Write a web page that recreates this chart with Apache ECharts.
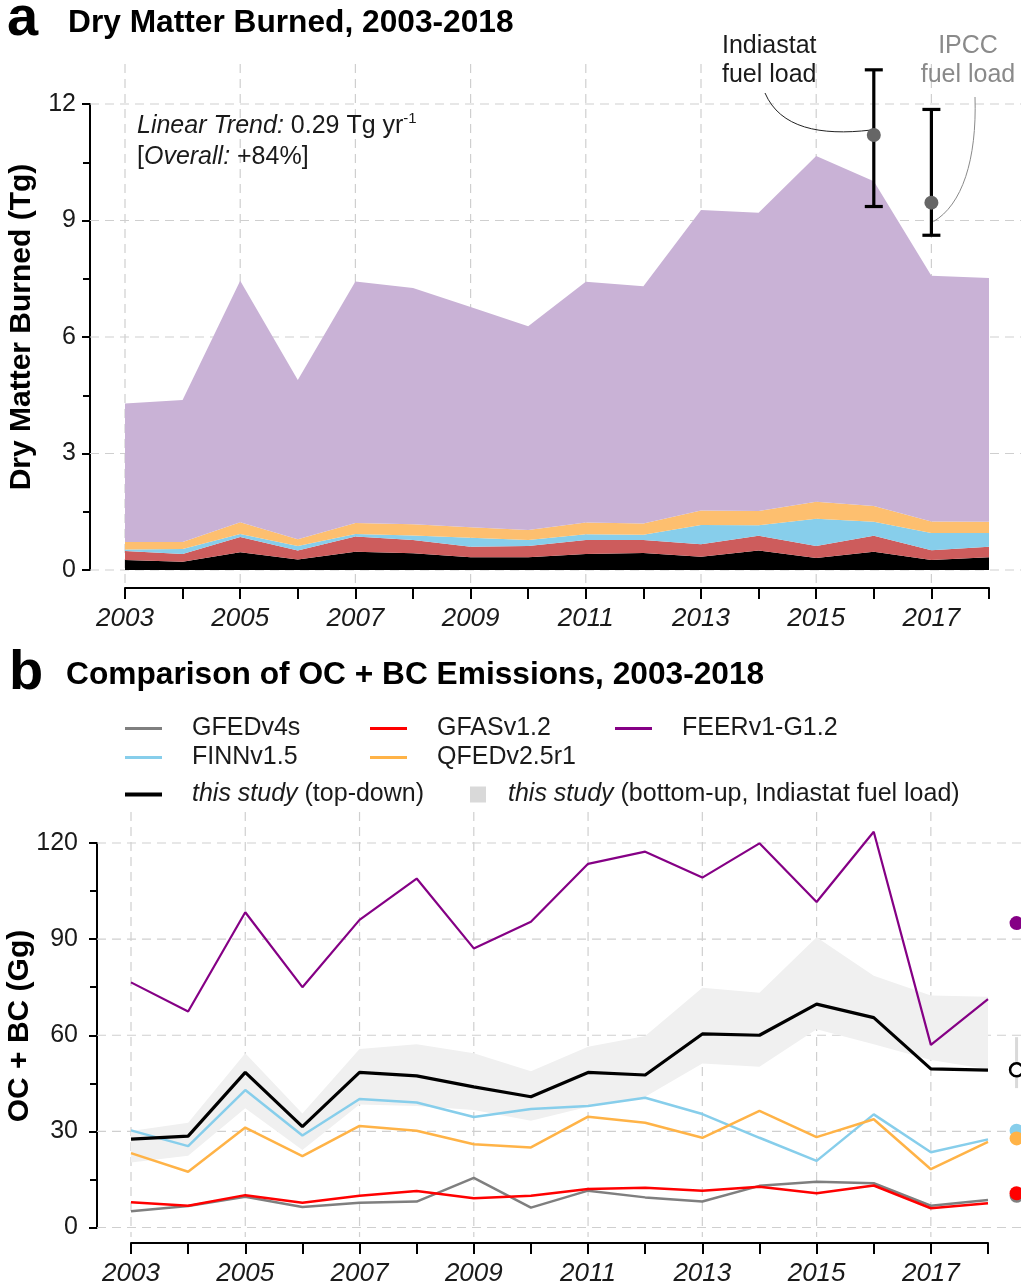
<!DOCTYPE html>
<html>
<head>
<meta charset="utf-8">
<script src="https://cdn.jsdelivr.net/npm/echarts@6/dist/echarts.min.js"></script>
<style>
  html, body { margin: 0; padding: 0; background: #ffffff; }
  #chart { width: 1021px; height: 1287px; }
</style>
</head>
<body>
<div id="chart"></div>
<script>
// ---------------- data ----------------
const years = ['2003', '2004', '2005', '2006', '2007', '2008', '2009', '2010', '2011', '2012', '2013', '2014', '2015', '2016', '2017', '2018'];
const yearLabels = ['2003', '2005', '2007', '2009', '2011', '2013', '2015', '2017'];
const dmTicks = [0, 3, 6, 9, 12];
const emTicks = [0, 30, 60, 90, 120];

// panel a: dry matter burned (Tg), stacked from the bottom layer up
const dmBlack  = [0.26, 0.21, 0.46, 0.27, 0.47, 0.43, 0.33, 0.33, 0.41, 0.44, 0.34, 0.50, 0.31, 0.47, 0.26, 0.33];
const dmRed    = [0.23, 0.20, 0.39, 0.23, 0.39, 0.34, 0.27, 0.29, 0.36, 0.33, 0.32, 0.38, 0.31, 0.41, 0.25, 0.27];
const dmBlue   = [0.04, 0.13, 0.08, 0.12, 0.07, 0.12, 0.23, 0.15, 0.15, 0.14, 0.50, 0.27, 0.70, 0.36, 0.44, 0.35];
const dmOrange = [0.19, 0.18, 0.30, 0.17, 0.28, 0.29, 0.27, 0.26, 0.30, 0.29, 0.37, 0.37, 0.44, 0.41, 0.30, 0.29];
const dmPurple = [3.57, 3.66, 6.22, 4.10, 6.22, 6.08, 5.67, 5.25, 6.20, 6.11, 7.74, 7.68, 8.90, 8.36, 6.33, 6.28];

// fuel-load estimates with their ranges (Tg)
const fuelLoadNames   = ['Indiastat', 'IPCC'];
const fuelLoadYears   = [2016, 2017];
const fuelLoadCentral = [11.20, 9.46];
const fuelLoadLow     = [9.36, 8.62];
const fuelLoadHigh    = [12.88, 11.86];

// panel b: OC + BC emissions (Gg)
const gfed    = [5.1, 6.7, 9.6, 6.4, 7.7, 8.1, 15.5, 6.2, 11.5, 9.4, 8.1, 13.0, 14.3, 13.8, 6.8, 8.6];
const gfas    = [7.9, 6.8, 10.1, 7.7, 9.9, 11.4, 9.1, 9.9, 12.0, 12.4, 11.5, 12.7, 10.7, 13.1, 6.0, 7.6];
const feer    = [76.5, 67.4, 98.4, 75.0, 96.0, 108.9, 87.1, 95.4, 113.5, 117.3, 109.2, 119.9, 101.6, 123.5, 57.0, 71.3];
const finn    = [30.3, 25.4, 42.9, 28.7, 40.1, 39.0, 34.5, 37.0, 37.9, 40.5, 35.4, 28.0, 20.8, 35.3, 23.5, 27.5];
const qfed    = [23.2, 17.4, 31.2, 22.3, 31.7, 30.2, 26.0, 25.0, 34.6, 32.7, 28.0, 36.4, 28.2, 33.8, 18.2, 26.7];
const topDown = [27.6, 28.5, 48.4, 31.5, 48.4, 47.3, 43.9, 40.8, 48.4, 47.6, 60.4, 60.0, 69.7, 65.5, 49.5, 49.1];
const bottomUpLow  = [20.3, 22.4, 37.2, 24.2, 38.4, 37.9, 36.7, 33.3, 37.7, 40.8, 51.2, 50.2, 61.9, 57.2, 52.3, 49.4];
const bottomUpHigh = [30.1, 32.7, 54.4, 35.6, 55.7, 57.2, 54.4, 48.8, 56.4, 59.8, 74.8, 73.3, 90.6, 78.6, 72.4, 72.0];

// period means shown in the column to the right of panel b
const meanFeer = 95.0, meanTopDown = 49.2, meanFinn = 30.2, meanQfed = 27.8, meanGfas = 10.7, meanGfed = 9.9;
const meanBottomUpRange = [43.5, 59.4];

// ---------------- layout ----------------
const FONT = "'Liberation Sans', Arial, Helvetica, sans-serif";
const INK = '#1a1a1a';

// plotting boxes (pixels): data box = axis extents, frame = area covered by dashed guides
const A  = { left: 125, right: 989, top: 104, bottom: 570 };
const AF = { left: 90, right: 1021, top: 64, bottom: 584 };
const B  = { left: 131, right: 988, top: 843, bottom: 1227.5 };
const BF = { left: 97, right: 1021, top: 812, bottom: 1237 };
const summaryColumnX = 2018.5;

const lin = (p0, p1, v0, v1) => (p) => v0 + (p - p0) * (v1 - v0) / (p1 - p0);
const firstYear = +years[0], lastYear = +years[years.length - 1];
const axAx = lin(A.left, A.right, firstYear, lastYear);
const axAy = lin(A.bottom, A.top, dmTicks[0], dmTicks[dmTicks.length - 1]);
const axBx = lin(B.left, B.right, firstYear, lastYear);
const axBy = lin(B.bottom, B.top, emTicks[0], emTicks[emTicks.length - 1]);
const gridYears = yearLabels.map(Number);

const box = (b) => ({ left: b.left, top: b.top, width: b.right - b.left, height: b.bottom - b.top });

function yearAxis(gridIndex, offset) {
  return {
    gridIndex, type: 'category', data: years, boundaryGap: false, offset,
    axisLine: { show: true, onZero: false, lineStyle: { color: '#000', width: 2 } },
    axisTick: { show: true, inside: false, interval: 0, length: 11, lineStyle: { color: '#000', width: 2 } },
    axisLabel: {
      interval: 0, margin: 18, fontFamily: FONT, fontSize: 26, fontStyle: 'italic', color: INK,
      formatter: (v) => (yearLabels.indexOf(String(v)) >= 0 ? String(v) : '')
    },
    splitLine: { show: false }, splitArea: { show: false }
  };
}
function valueAxis(gridIndex, ticks, offset, margin) {
  return {
    gridIndex, type: 'value', min: ticks[0], max: ticks[ticks.length - 1],
    interval: ticks[1] - ticks[0], offset,
    axisLine: { show: true, onZero: false, lineStyle: { color: '#000', width: 2 } },
    axisTick: { show: true, inside: false, length: 8, lineStyle: { color: '#000', width: 2 } },
    minorTick: { show: true, splitNumber: 2, length: 7, lineStyle: { color: '#000', width: 2 } },
    axisLabel: { margin, fontFamily: FONT, fontSize: 25, color: INK },
    splitLine: { show: false }, minorSplitLine: { show: false }, splitArea: { show: false }
  };
}
function frameAxis(gridIndex, min, max) {
  return {
    gridIndex, type: 'value', show: false, min, max,
    axisLine: { show: false, onZero: false }, splitLine: { show: false }
  };
}
// dashed guide lines across the whole frame, at the labelled years and the value ticks
function guides(axisIndex, xs, ys) {
  return {
    type: 'custom', xAxisIndex: axisIndex, yAxisIndex: axisIndex, data: [0], silent: true, z: 1, clip: false,
    renderItem: (params, api) => {
      const cs = params.coordSys;
      const style = { stroke: '#cfcfcf', lineWidth: 1.2, lineDash: [9, 6], fill: null };
      const kids = [];
      xs.forEach((v) => {
        const x = api.coord([v, ys[0]])[0];
        kids.push({ type: 'line', shape: { x1: x, y1: cs.y, x2: x, y2: cs.y + cs.height }, style });
      });
      ys.forEach((v) => {
        const y = api.coord([xs[0], v])[1];
        kids.push({ type: 'line', shape: { x1: cs.x, y1: y, x2: cs.x + cs.width, y2: y }, style });
      });
      return { type: 'group', children: kids };
    }
  };
}
function dmLayer(name, values, color) {
  return {
    type: 'line', name, xAxisIndex: 1, yAxisIndex: 1, stack: 'dm', data: values,
    symbol: 'none', z: 2, silent: true,
    lineStyle: { width: 0 }, itemStyle: { color }, areaStyle: { color, opacity: 1 }
  };
}
function emLine(name, values, color, width, z) {
  return {
    type: 'line', name, xAxisIndex: 3, yAxisIndex: 3, data: values, symbol: 'none', z, clip: false,
    silent: true, lineStyle: { color, width }, itemStyle: { color }, emphasis: { disabled: true }
  };
}
function meanDot(value, color, z) {
  return {
    type: 'scatter', xAxisIndex: 2, yAxisIndex: 2, data: [[summaryColumnX, value]], clip: false,
    symbol: 'circle', symbolSize: 14, z, silent: true, itemStyle: { color, opacity: 1 }
  };
}

const NAME_GFED = 'GFEDv4s', NAME_GFAS = 'GFASv1.2', NAME_FEER = 'FEERv1-G1.2',
      NAME_FINN = 'FINNv1.5', NAME_QFED = 'QFEDv2.5r1',
      NAME_TD = 'this study (top-down)', NAME_BU = 'this study (bottom-up, Indiastat fuel load)';

const legendText = (gap) => ({
  fontFamily: FONT, fontSize: 25, color: INK, lineHeight: 25,
  rich: {
    g: { width: gap, fontSize: 25, fontFamily: FONT },
    i: { fontStyle: 'italic', fontSize: 25, fontFamily: FONT, color: INK }
  }
});
const legendFormatter = (name) =>
  name.indexOf('this study') === 0 ? '{g| }{i|this study}' + name.slice('this study'.length) : '{g| }' + name;
function lineLegend(name, left, top, thick) {
  return {
    data: [name], left, top, orient: 'horizontal', padding: 0, icon: 'rect',
    itemWidth: 37, itemHeight: thick, selectedMode: false,
    formatter: legendFormatter, textStyle: legendText(25)
  };
}

const option = {
  animation: false,
  backgroundColor: '#ffffff',
  grid: [box(AF), box(A), box(BF), box(B)],
  xAxis: [
    frameAxis(0, axAx(AF.left), axAx(AF.right)),
    yearAxis(1, 18),
    frameAxis(2, axBx(BF.left), axBx(BF.right)),
    yearAxis(3, 15.5)
  ],
  yAxis: [
    frameAxis(0, axAy(AF.bottom), axAy(AF.top)),
    valueAxis(1, dmTicks, A.left - AF.left, 14),
    frameAxis(2, axBy(BF.bottom), axBy(BF.top)),
    valueAxis(3, emTicks, B.left - BF.left, 19)
  ],
  legend: [
    lineLegend(NAME_GFED, 125, 716, 3),
    lineLegend(NAME_FINN, 125, 745, 3),
    lineLegend(NAME_GFAS, 370, 716, 3),
    lineLegend(NAME_QFED, 370, 745, 3),
    lineLegend(NAME_FEER, 615, 716, 3),
    lineLegend(NAME_TD, 125, 782, 4),
    {
      data: [{ name: NAME_BU, itemStyle: { color: '#d9d9d9' } }], left: 470, top: 782, padding: 0,
      icon: 'rect', itemWidth: 16, itemHeight: 16, selectedMode: false,
      formatter: legendFormatter, textStyle: legendText(17)
    }
  ],
  series: [
    // panel a
    guides(0, gridYears, dmTicks),
    dmLayer('layer1', dmBlack, '#000000'),
    dmLayer('layer2', dmRed, '#cd5c5c'),
    dmLayer('layer3', dmBlue, '#87ceeb'),
    dmLayer('layer4', dmOrange, '#fdbf6f'),
    dmLayer('layer5', dmPurple, '#c9b2d6'),
    {
      type: 'custom', name: 'fuel load range', xAxisIndex: 0, yAxisIndex: 0, z: 4, silent: true, clip: false,
      data: fuelLoadYears.map((y, i) => [y, fuelLoadLow[i], fuelLoadHigh[i]]),
      renderItem: (params, api) => {
        const x = api.value(0);
        const lo = api.coord([x, api.value(1)]);
        const hi = api.coord([x, api.value(2)]);
        const cap = 9;
        const style = { stroke: '#000', lineWidth: 3.2 };
        return {
          type: 'group', children: [
            { type: 'line', shape: { x1: lo[0], y1: lo[1], x2: hi[0], y2: hi[1] }, style },
            { type: 'line', shape: { x1: lo[0] - cap, y1: lo[1], x2: lo[0] + cap, y2: lo[1] }, style },
            { type: 'line', shape: { x1: hi[0] - cap, y1: hi[1], x2: hi[0] + cap, y2: hi[1] }, style }
          ]
        };
      }
    },
    {
      type: 'scatter', name: 'fuel load', xAxisIndex: 0, yAxisIndex: 0, z: 5, silent: true,
      data: fuelLoadYears.map((y, i) => [y, fuelLoadCentral[i]]),
      symbol: 'circle', symbolSize: 14, itemStyle: { color: '#666666', opacity: 1 }
    },

    // panel b
    guides(2, gridYears, emTicks),
    {
      type: 'line', name: 'bottom-up low', xAxisIndex: 3, yAxisIndex: 3, stack: 'bu', z: 2, silent: true,
      data: bottomUpLow, symbol: 'none', lineStyle: { width: 0, opacity: 0 }, itemStyle: { color: '#f0f0f0' }
    },
    {
      type: 'line', name: NAME_BU, xAxisIndex: 3, yAxisIndex: 3, stack: 'bu', z: 2, silent: true,
      data: bottomUpHigh.map((h, i) => +(h - bottomUpLow[i]).toFixed(2)),
      symbol: 'none', lineStyle: { width: 0, opacity: 0 },
      itemStyle: { color: '#f0f0f0' }, areaStyle: { color: '#f0f0f0', opacity: 1 }
    },
    emLine(NAME_GFED, gfed, '#7f7f7f', 2.5, 3),
    emLine(NAME_GFAS, gfas, '#ff0000', 2.5, 3),
    emLine(NAME_FEER, feer, '#850085', 2.2, 3),
    emLine(NAME_FINN, finn, '#87ceeb', 2.5, 3),
    emLine(NAME_QFED, qfed, '#ffb347', 2.5, 3),
    emLine(NAME_TD, topDown, '#000000', 3.2, 4),

    // period means
    {
      type: 'line', name: 'bottom-up mean range', xAxisIndex: 2, yAxisIndex: 2, z: 4, silent: true,
      data: meanBottomUpRange.map((v) => [summaryColumnX, v]), symbol: 'none', clip: false,
      lineStyle: { color: '#d9d9d9', width: 3 }
    },
    meanDot(meanFeer, '#850085', 5),
    meanDot(meanFinn, '#87ceeb', 5),
    meanDot(meanQfed, '#ffb347', 6),
    meanDot(meanGfed, '#7f7f7f', 5),
    meanDot(meanGfas, '#ff0000', 6),
    {
      type: 'scatter', xAxisIndex: 2, yAxisIndex: 2, data: [[summaryColumnX, meanTopDown]], clip: false,
      symbol: 'circle', symbolSize: 13, z: 6, silent: true,
      itemStyle: { color: '#ffffff', borderColor: '#000000', borderWidth: 2.5, opacity: 1 }
    }
  ]
};

const chart = echarts.init(document.getElementById('chart'), null, { renderer: 'canvas', width: 1021, height: 1287 });
chart.setOption(option);

// ---------------- text and leader lines ----------------
const txt = (text, x, y, o, rotation) => ({
  type: 'text', x, y, silent: true, z: 10, rotation: rotation || 0,
  style: Object.assign({ text, fill: INK, fontFamily: FONT, fontSize: 25, align: 'left', verticalAlign: 'middle' }, o || {})
});
const pIndia = chart.convertToPixel({ gridIndex: 0 }, [fuelLoadYears[0], fuelLoadCentral[0]]);
const pIpcc = chart.convertToPixel({ gridIndex: 0 }, [fuelLoadYears[1], fuelLoadCentral[1]]);

const graphics = [
  txt('a', 7, 20, { fontSize: 56, fontWeight: 'bold', fill: '#000' }),
  txt('Dry Matter Burned, 2003-2018', 68, 23, { fontSize: 31.7, fontWeight: 'bold', fill: '#000' }),
  txt('b', 9, 674, { fontSize: 56, fontWeight: 'bold', fill: '#000' }),
  txt('Comparison of OC + BC Emissions, 2003-2018', 66, 675, { fontSize: 31.7, fontWeight: 'bold', fill: '#000' }),
  txt('Dry Matter Burned (Tg)', 22, 327, { fontSize: 30, fontWeight: 'bold', fill: '#000', align: 'center' }, Math.PI / 2),
  txt('OC + BC (Gg)', 20, 1026, { fontSize: 30, fontWeight: 'bold', fill: '#000', align: 'center' }, Math.PI / 2),
  {
    type: 'text', x: 137, y: 126, silent: true, z: 10,
    style: {
      text: '{i|Linear Trend:}{n| 0.29 Tg yr}{s|-1}',
      verticalAlign: 'middle', align: 'left',
      rich: {
        i: { fontFamily: FONT, fontSize: 25, fontStyle: 'italic', fill: INK, lineHeight: 30 },
        n: { fontFamily: FONT, fontSize: 25, fill: INK, lineHeight: 30 },
        s: { fontFamily: FONT, fontSize: 15, fill: INK, lineHeight: 30, verticalAlign: 'top' }
      }
    }
  },
  {
    type: 'text', x: 137, y: 157, silent: true, z: 10,
    style: {
      text: '{n|[}{i|Overall:}{n| +84%]}',
      verticalAlign: 'middle', align: 'left',
      rich: {
        i: { fontFamily: FONT, fontSize: 25, fontStyle: 'italic', fill: INK },
        n: { fontFamily: FONT, fontSize: 25, fill: INK }
      }
    }
  },
  txt(fuelLoadNames[0] + '\nfuel load', 722, 61, { lineHeight: 29 }),
  txt(fuelLoadNames[1] + '\nfuel load', 968, 61, { lineHeight: 29, align: 'center', fill: '#8a8a8a' }),
  {
    type: 'bezierCurve', silent: true, z: 3,
    shape: { x1: 765, y1: 93, cpx1: 780, cpy1: 128, cpx2: 820, cpy2: 136, x2: pIndia[0] - 3, y2: pIndia[1] - 5 },
    style: { stroke: '#222', lineWidth: 1, fill: null }
  },
  {
    type: 'bezierCurve', silent: true, z: 3,
    shape: { x1: 975, y1: 97, cpx1: 977, cpy1: 160, cpx2: 962, cpy2: 205, x2: pIpcc[0] + 2, y2: pIpcc[1] + 19 },
    style: { stroke: '#8a8a8a', lineWidth: 1, fill: null }
  }
];
chart.setOption({ graphic: graphics });
</script>
</body>
</html>
